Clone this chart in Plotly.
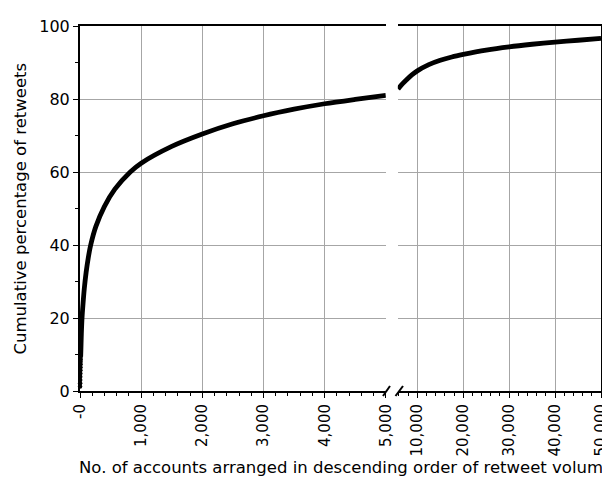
import plotly.graph_objects as go

# ---- data ----
head_rank = [1, 2, 3, 4, 5, 6, 7, 8, 9, 10, 11]
head_pct = [1.2, 2.1, 3.0, 3.9, 4.8, 5.7, 6.5, 7.3, 8.0, 8.7, 9.4]

left_rank = [11, 15, 20, 25, 33, 50, 70, 100, 135, 175, 260, 400, 570, 822, 1000,
             1500, 2000, 2500, 3000, 3500, 4000, 4500, 5000]
left_pct = [9.4, 11.5, 14.5, 17.0, 20.0, 24.0, 28.0, 32.5, 36.5, 40.0, 45.1, 50.6, 55.3, 60.0, 62.4,
            67.0, 70.4, 73.2, 75.4, 77.2, 78.7, 79.9, 81.0]

right_rank = [5800, 6500, 7600, 8800, 10000, 12500, 15000, 17500, 20000, 25000, 30000,
              35000, 40000, 45000, 50000]
right_pct = [82.7, 83.8, 85.2, 86.6, 87.7, 89.4, 90.6, 91.5, 92.2, 93.4, 94.3,
             95.0, 95.6, 96.1, 96.6]

left_tickvals = [0, 1000, 2000, 3000, 4000, 5000]
left_ticktext = ["-0", "1,000", "2,000", "3,000", "4,000", "5,000"]
right_tickvals = [10000, 20000, 30000, 40000, 50000]
right_ticktext = ["10,000", "20,000", "30,000", "40,000", "50,000"]
y_tickvals = [0, 20, 40, 60, 80, 100]

FONT = "DejaVu Sans, Verdana, sans-serif"
GRID = "#a6a6a6"

fig = go.Figure()
fig.add_trace(go.Scatter(x=left_rank, y=left_pct, mode="lines",
                         line=dict(color="black", width=4.8, shape="spline", smoothing=0.8),
                         xaxis="x", yaxis="y", showlegend=False))
fig.add_trace(go.Scatter(x=head_rank, y=head_pct, mode="markers", marker=dict(color="black", size=4.5),
                         xaxis="x", yaxis="y", showlegend=False, cliponaxis=False))
fig.add_trace(go.Scatter(x=right_rank, y=right_pct, mode="lines",
                         line=dict(color="black", width=4.8, shape="spline", smoothing=0.8),
                         xaxis="x2", yaxis="y2", showlegend=False))

axis_common = dict(showgrid=True, gridcolor=GRID, gridwidth=1, zeroline=False, automargin=False,
                   linecolor="black", linewidth=2, tickcolor="black",
                   tickfont=dict(family=FONT, size=15, color="black"))

# the page body has an 8px margin, so the figure is made 8px smaller on each offset side
fig.update_layout(
    width=602, height=469,
    margin=dict(l=72, r=9, t=18, b=86, autoexpand=False),
    paper_bgcolor="white", plot_bgcolor="white",
    xaxis=dict(axis_common, domain=[0, 0.587], range=[0, 5000],
               tickvals=left_tickvals, ticktext=left_ticktext, tickangle=-90,
               showline=True, mirror=True, ticks="outside", ticklen=5,
               minor=dict(dtick=200, ticks="outside", ticklen=3, tickcolor="black", showgrid=False)),
    yaxis=dict(axis_common, range=[0, 100], tickvals=y_tickvals,
               tickfont=dict(family=FONT, size=16, color="black"),
               showline=True, ticks="outside", ticklen=5,
               minor=dict(dtick=10, ticks="outside", ticklen=3, tickcolor="black", showgrid=False)),
    xaxis2=dict(axis_common, domain=[0.610, 1], range=[5750, 50000], anchor="y2",
                tickvals=right_tickvals, ticktext=right_ticktext, tickangle=-90,
                showline=True, mirror=True, ticks="outside", ticklen=5,
                minor=dict(dtick=2000, tick0=0, ticks="outside", ticklen=3, tickcolor="black", showgrid=False)),
    yaxis2=dict(axis_common, range=[0, 100], tickvals=y_tickvals, anchor="x2", side="right",
                showline=True, showticklabels=False, ticks=""),
)

# axis titles
fig.add_annotation(text="No. of accounts arranged in descending order of retweet volume",
                   xref="paper", yref="paper", x=(77 - 80) / 521, y=(391 - 467) / 365,
                   xanchor="left", yanchor="middle",
                   showarrow=False, font=dict(family=FONT, size=16.5, color="black"))
fig.add_annotation(text="Cumulative percentage of retweets",
                   xref="paper", yref="paper", x=(20 - 80) / 521, y=0.5, xanchor="center", yanchor="middle",
                   textangle=-90, showarrow=False, font=dict(family=FONT, size=16.5, color="black"))

# axis break marks
for x0, x1 in [(383.0, 390.0), (395.5, 403.0)]:
    fig.add_shape(type="line", xref="paper", yref="paper",
                  x0=(x0 - 80) / 521, x1=(x1 - 80) / 521,
                  y0=(391 - 396) / 365, y1=(391 - 386) / 365,
                  line=dict(color="black", width=2))

fig.write_html("out.html")
